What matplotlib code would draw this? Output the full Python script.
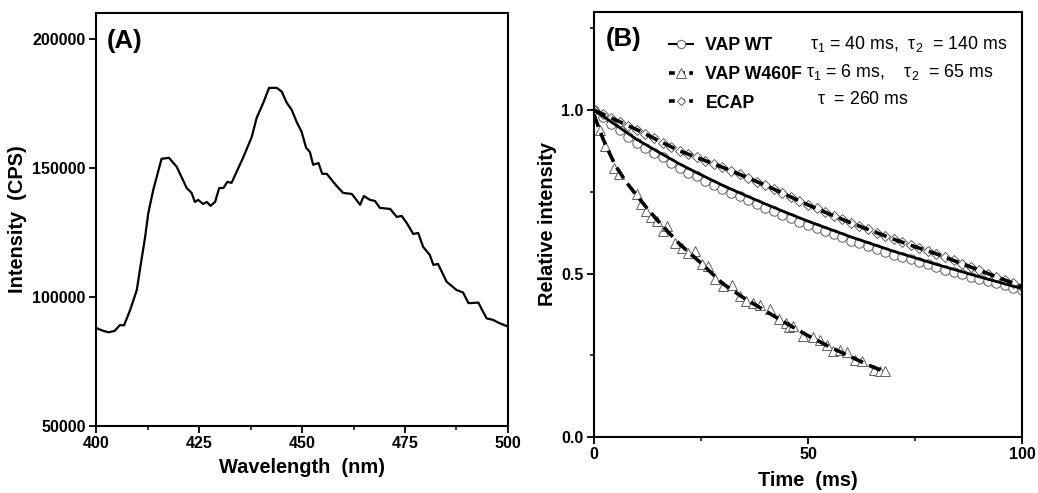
import matplotlib
matplotlib.use("Agg")
import matplotlib.pyplot as plt
from matplotlib.lines import Line2D
from matplotlib.ticker import MultipleLocator, FormatStrFormatter

plt.rcParams['font.family'] = ['Liberation Sans', 'DejaVu Sans']
plt.rcParams['font.weight'] = 'bold'
plt.rcParams['mathtext.fontset'] = 'custom'
plt.rcParams['mathtext.rm'] = 'Liberation Sans'

# ---------------- Panel A data ----------------
wavelength = [400, 401.5, 403, 404.5, 405.8, 406.8, 408.3, 409.9, 410.8, 411.9, 412.7, 413.9,
              415.9, 417.7, 419.6, 422.0, 423.2, 424.0, 424.8, 426.0, 426.9, 427.8, 428.9,
              429.9, 430.9, 431.9, 432.9, 435.8, 437.8, 439.0, 440.6, 442.0, 443.9, 445.1,
              446.3, 447.5, 448.7, 449.9, 451.0, 451.9, 452.7, 454.0, 454.9, 456.0, 458.4,
              460.0, 462.1, 464.1, 465.0, 466.5, 467.7, 468.9, 471.4, 473.0, 474.2, 475.4,
              477.0, 478.2, 479.4, 481.0, 481.9, 483.0, 485.1, 487.5, 489.1, 490.4, 492.8,
              494.8, 496.4, 497.7, 500.0]
intensity = [88000, 87000, 86300, 86800, 89100, 89000, 95000, 102700, 112000, 123000, 132600, 141500,
             153500, 153900, 150400, 142200, 140300, 136800, 137600, 136000, 136800, 135300, 136800,
             142200, 142200, 144600, 144200, 154300, 162000, 169400, 175200, 181000, 181000, 179500,
             175200, 172500, 167800, 164000, 157800, 156200, 151200, 151900, 147700, 147700, 143000,
             140300, 139900, 135700, 139100, 137600, 137200, 134500, 134100, 131000, 131400, 128700,
             124400, 124800, 119400, 116300, 112400, 112800, 105900, 102700, 101700, 97600, 97800,
             91700, 91100, 90000, 88500]

# ---------------- Panel B data ----------------
t_data = [0, 2, 4, 6, 8, 10, 12, 14, 16, 18, 20, 22, 24, 26, 28, 30, 32, 34, 36, 38, 40,
          42, 44, 46, 48, 50, 52, 54, 56, 58, 60, 62, 64, 66, 68, 70, 72, 74, 76, 78, 80,
          82, 84, 86, 88, 90, 92, 94, 96, 98, 100]
wt_data = [1.0, 0.978, 0.958, 0.938, 0.918, 0.899, 0.884, 0.869, 0.855, 0.838, 0.822, 0.809,
           0.797, 0.783, 0.77, 0.758, 0.747, 0.736, 0.724, 0.712, 0.701, 0.691, 0.68, 0.669,
           0.659, 0.648, 0.639, 0.63, 0.62, 0.611, 0.601, 0.593, 0.584, 0.575, 0.567, 0.558,
           0.551, 0.543, 0.535, 0.528, 0.52, 0.512, 0.505, 0.498, 0.49, 0.484, 0.477, 0.47,
           0.464, 0.457, 0.451]
ecap_data = [1.0, 0.988, 0.976, 0.964, 0.952, 0.94, 0.927, 0.914, 0.9, 0.888, 0.875, 0.865,
             0.855, 0.845, 0.835, 0.825, 0.814, 0.803, 0.792, 0.781, 0.77, 0.758, 0.746, 0.734,
             0.722, 0.71, 0.699, 0.688, 0.677, 0.666, 0.655, 0.645, 0.635, 0.625, 0.615, 0.605,
             0.596, 0.587, 0.578, 0.569, 0.56, 0.55, 0.54, 0.53, 0.52, 0.51, 0.50, 0.49, 0.48,
             0.47, 0.46]
t_w460f = [1.5, 2.6, 4.7, 5.9, 10.0, 10.9, 12.1, 13.3, 14.6, 16.2, 17.1, 18.9, 20.5, 22.0,
           23.6, 25.2, 26.7, 28.3, 30.2, 32.2, 34.1, 35.5, 37.2, 38.8, 41.1, 43.1, 44.8, 45.6,
           46.4, 48.9, 51.2, 52.8, 54.4, 55.9, 57.5, 59.0, 61.0, 62.5, 65.3, 66.8, 68.0]
w460f_data = [0.94, 0.89, 0.824, 0.805, 0.742, 0.712, 0.691, 0.672, 0.66, 0.63, 0.645, 0.594,
              0.579, 0.563, 0.568, 0.528, 0.522, 0.482, 0.461, 0.466, 0.43, 0.415, 0.41, 0.405,
              0.39, 0.362, 0.349, 0.335, 0.338, 0.308, 0.306, 0.298, 0.282, 0.262, 0.267, 0.259,
              0.236, 0.231, 0.206, 0.203, 0.202]

t_fit = [0, 5, 10, 15, 20, 25, 30, 35, 40, 45, 50, 55, 60, 65, 70, 75, 80, 85, 90, 95, 100]
wt_fit = [1.0, 0.955, 0.91, 0.872, 0.835, 0.802, 0.77, 0.741, 0.713, 0.686, 0.66, 0.636,
          0.612, 0.59, 0.568, 0.548, 0.528, 0.509, 0.49, 0.472, 0.454]
ecap_fit = [1.0, 0.97, 0.94, 0.907, 0.875, 0.85, 0.825, 0.798, 0.77, 0.74, 0.71, 0.682,
            0.655, 0.63, 0.605, 0.582, 0.56, 0.535, 0.51, 0.485, 0.46]
t_w460f_fit = [0, 1, 2, 3, 5, 7.5, 10, 12.5, 15, 20, 25, 30, 35, 40, 45, 50, 55, 60, 65, 68]
w460f_fit = [0.985, 0.95, 0.915, 0.885, 0.83, 0.78, 0.738, 0.698, 0.66, 0.59, 0.532, 0.47,
             0.425, 0.386, 0.347, 0.31, 0.276, 0.245, 0.215, 0.2]

legend_labels = ["VAP WT", "VAP W460F", "ECAP"]
tau_texts = [r"$\mathregular{\tau_1}$ = 40 ms,  $\mathregular{\tau_2}$  = 140 ms",
             r"$\mathregular{\tau_1}$ = 6 ms,    $\mathregular{\tau_2}$  = 65 ms",
             r"$\mathregular{\tau}$  = 260 ms"]

fig = plt.figure(figsize=(10.38, 4.93), dpi=100)
axA = fig.add_axes([0.0925, 0.1359, 0.3969, 0.8377])
axB = fig.add_axes([0.5723, 0.1136, 0.4123, 0.8621])

def style(ax):
    for s in ax.spines.values():
        s.set_linewidth(1.5)
    ax.tick_params(which='major', direction='out', length=5, width=1.3, labelsize=11.5, pad=2.5)
    ax.tick_params(which='minor', direction='out', length=3, width=1.1)
    ax.tick_params(top=False, right=False)
    for lab in ax.get_xticklabels() + ax.get_yticklabels():
        lab.set_fontweight('bold')

# Panel A
axA.plot(wavelength, intensity, color='black', lw=1.6)
axA.set_xlim(400, 500)
axA.set_ylim(50000, 210000)
axA.xaxis.set_major_locator(MultipleLocator(25))
axA.xaxis.set_minor_locator(MultipleLocator(12.5))
axA.yaxis.set_major_locator(MultipleLocator(50000))
style(axA)
axA.set_xlabel("Wavelength  (nm)", fontsize=14.4, fontweight='bold', labelpad=5)
axA.set_ylabel("Intensity  (CPS)", fontsize=14.4, fontweight='bold', labelpad=4)
axA.text(0.027, 0.962, "(A)", transform=axA.transAxes, fontsize=18.5, fontweight='bold',
         va='top', ha='left')

# Panel B
mk = dict(markerfacecolor='white', markeredgecolor='#606060', markeredgewidth=0.7, linestyle='none')
axB.plot(t_data, wt_data, marker='o', markersize=6.8, **mk, zorder=2)
axB.plot(t_data, ecap_data, marker='D', markersize=5, **mk, zorder=2)
axB.plot(t_w460f, w460f_data, marker='^', markersize=7, **mk, zorder=2)
axB.plot(t_fit, wt_fit, color='black', lw=2.0, zorder=3)
axB.plot(t_fit, ecap_fit, color='black', lw=2.6, dashes=(3.5, 1.8), zorder=3)
axB.plot(t_w460f_fit, w460f_fit, color='black', lw=2.6, dashes=(3.5, 1.8), zorder=3)
axB.set_xlim(0, 100)
axB.set_ylim(0, 1.3)
axB.xaxis.set_major_locator(MultipleLocator(50))
axB.xaxis.set_minor_locator(MultipleLocator(25))
axB.yaxis.set_major_locator(MultipleLocator(0.5))
axB.yaxis.set_minor_locator(MultipleLocator(0.25))
axB.yaxis.set_major_formatter(FormatStrFormatter('%.1f'))
style(axB)
axB.set_xlabel("Time  (ms)", fontsize=14.4, fontweight='bold', labelpad=6)
axB.set_ylabel("Relative intensity", fontsize=14.4, fontweight='bold', labelpad=3)
axB.text(0.027, 0.965, "(B)", transform=axB.transAxes, fontsize=18.5, fontweight='bold',
         va='top', ha='left')

handles = [
    Line2D([], [], color='black', lw=1.5, marker='o', markersize=6, markerfacecolor='white',
           markeredgecolor='#606060', markeredgewidth=0.7),
    Line2D([], [], color='black', lw=2.6, dashes=(1.6, 1.2), marker='^', markersize=6.5,
           markerfacecolor='white', markeredgecolor='#606060', markeredgewidth=0.7),
    Line2D([], [], color='black', lw=2.6, dashes=(1.6, 1.2), marker='D', markersize=4.5,
           markerfacecolor='white', markeredgecolor='#606060', markeredgewidth=0.7),
]
leg = axB.legend(handles, legend_labels, loc='upper left', bbox_to_anchor=(0.175, 0.941),
                 frameon=False, handlelength=1.35, handletextpad=0.7, labelspacing=0.66,
                 borderpad=0, borderaxespad=0,
                 prop={'family': 'Liberation Sans', 'weight': 'bold', 'size': 12.8})
tau_x = [0.505, 0.495, 0.521]
tau_y = [0.925, 0.859, 0.793]
for x, y, s in zip(tau_x, tau_y, tau_texts):
    axB.text(x, y, s, transform=axB.transAxes, fontsize=12.8, fontweight='normal',
             va='center', ha='left')

fig.savefig("out.png", dpi=100)
